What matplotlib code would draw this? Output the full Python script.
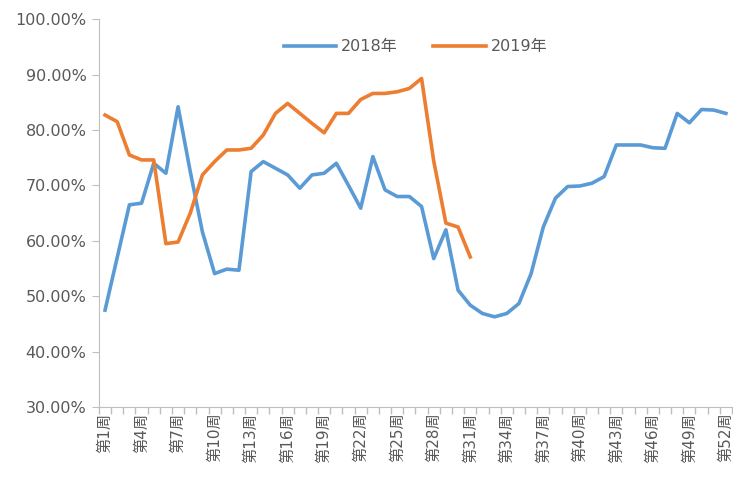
import numpy as np
import matplotlib.pyplot as plt
from matplotlib.ticker import FuncFormatter, FixedLocator

plt.rcParams['font.family'] = ['DejaVu Sans', 'Noto Sans CJK SC']

# =========================
# DATA
# =========================
weeks = [f"第{i}周" for i in range(1, 53)]

rate_2018 = [47.5, 57.0, 66.5, 66.8, 74.0, 72.2, 84.2, 72.5, 61.6, 54.1,
             54.9, 54.7, 72.5, 74.3, 73.1, 71.9, 69.5, 71.9, 72.2, 74.0,
             70.0, 65.9, 75.2, 69.2, 68.0, 68.0, 66.2, 56.8, 62.0, 51.1,
             48.4, 46.9, 46.3, 46.9, 48.7, 54.1, 62.5, 67.7, 69.8, 69.9,
             70.4, 71.6, 77.3, 77.3, 77.3, 76.8, 76.7, 83.0, 81.3, 83.7,
             83.6, 83.0]

rate_2019 = [82.7, 81.5, 75.5, 74.6, 74.6, 59.5, 59.8, 65.0, 71.9, 74.3,
             76.4, 76.4, 76.7, 79.1, 83.0, 84.8, 83.0, 81.2, 79.5, 83.0,
             83.0, 85.5, 86.6, 86.6, 86.9, 87.5, 89.3, 74.4, 63.2, 62.5,
             57.1]

# =========================
# PLOT
# =========================
fig = plt.figure(figsize=(7.33, 4.79), dpi=100)
ax = fig.add_axes([0.135, 0.150, 0.8636, 0.810])

x18 = np.arange(len(rate_2018))
x19 = np.arange(len(rate_2019))
ax.plot(x18, rate_2018, color="#5B9BD5", lw=2.6, label="2018年",
        solid_joinstyle="round")
ax.plot(x19, rate_2019, color="#ED7D31", lw=2.6, label="2019年",
        solid_joinstyle="round")

ax.set_xlim(-0.5, len(weeks) - 0.5)
ax.set_ylim(30, 100)
ax.set_yticks(np.arange(30, 101, 10))
ax.yaxis.set_major_formatter(FuncFormatter(lambda v, _: f"{v:.2f}%"))

# category labels every third week, tick marks between categories
label_pos = list(range(0, len(weeks), 3))
ax.xaxis.set_major_locator(FixedLocator(label_pos))
ax.set_xticklabels([weeks[i] for i in label_pos], rotation=90,
                   fontsize=11, color="#595959")
ax.tick_params(axis="x", which="major", length=0, pad=4)
ax.xaxis.set_minor_locator(FixedLocator(np.arange(-0.5, len(weeks), 1)))
ax.tick_params(axis="x", which="minor", length=5, color="#BFBFBF", width=1)

ax.tick_params(axis="y", length=5, color="#BFBFBF", labelsize=11.5,
               labelcolor="#595959", pad=4)

for side in ["top", "right"]:
    ax.spines[side].set_visible(False)
for side in ["left", "bottom"]:
    ax.spines[side].set_color("#BFBFBF")

leg = ax.legend(loc="upper center", bbox_to_anchor=(0.5, 0.985), ncol=2,
                frameon=False, fontsize=11.5, handlelength=3.3,
                columnspacing=2.2, handletextpad=0.3)
for t in leg.get_texts():
    t.set_color("#595959")

plt.savefig("out.png", dpi=100)
plt.close()
